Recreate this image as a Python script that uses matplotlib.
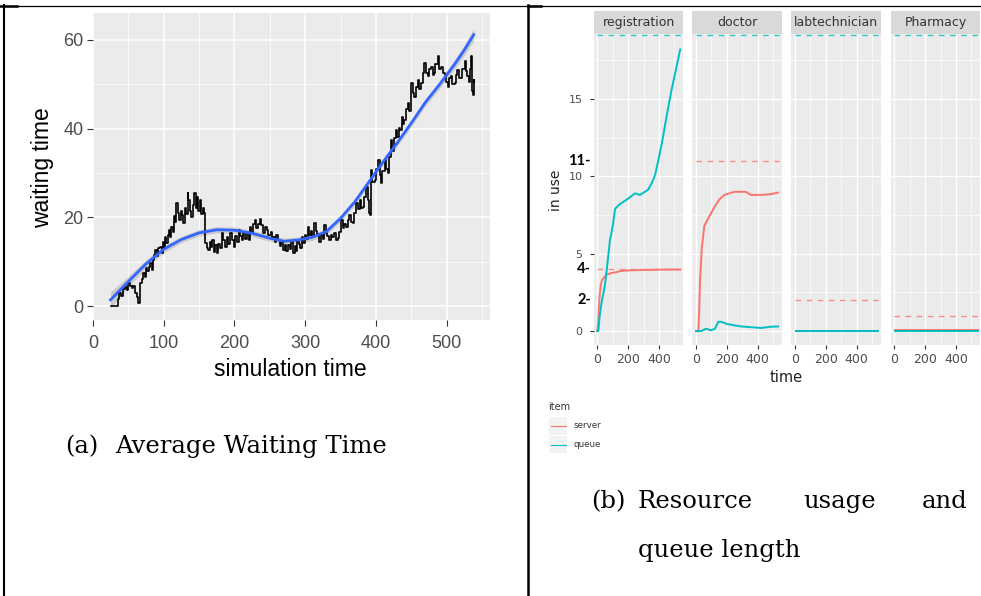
import matplotlib
matplotlib.use("Agg")
import matplotlib.pyplot as plt
import matplotlib.transforms as mtransforms
from matplotlib.lines import Line2D
from matplotlib.patches import Rectangle

plt.rcParams['font.family'] = ['Liberation Sans', 'DejaVu Sans']

W, H = 981, 596

# (a) average waiting time
wait_t = [25, 29, 33, 35, 37, 40, 42, 45, 48, 50, 52, 55, 57, 59, 62, 64, 66, 67, 69, 71,
          73, 75, 77, 79, 81, 83, 85, 87, 88, 90, 92, 95, 97, 99, 101, 102, 104, 106, 107, 109,
          111, 113, 114, 116, 118, 120, 122, 124, 126, 128, 130, 132, 134, 135, 137, 139, 141, 143, 145, 147,
          149, 151, 153, 155, 157, 159, 161, 163, 165, 167, 169, 171, 173, 175, 177, 179, 182, 184, 187, 189,
          191, 194, 196, 199, 201, 203, 206, 208, 210, 212, 215, 218, 220, 222, 224, 226, 229, 231, 233, 236,
          238, 241, 243, 246, 248, 251, 253, 255, 257, 259, 262, 264, 266, 269, 271, 273, 276, 278, 280, 283,
          285, 287, 289, 291, 293, 295, 297, 299, 301, 304, 306, 308, 310, 313, 315, 317, 320, 322, 325, 327,
          329, 331, 334, 336, 338, 341, 343, 346, 348, 351, 353, 355, 358, 360, 362, 364, 367, 369, 372, 374,
          377, 379, 381, 383, 386, 388, 390, 391, 393, 395, 398, 400, 403, 405, 407, 409, 412, 414, 417, 419,
          421, 423, 425, 428, 430, 432, 434, 436, 438, 440, 442, 445, 447, 450, 452, 454, 456, 459, 461, 464,
          466, 468, 470, 473, 475, 478, 480, 482, 484, 487, 489, 492, 494, 497, 499, 501, 503, 506, 508, 511,
          513, 515, 517, 520, 522, 525, 527, 529, 531, 533, 534, 535, 536, 537, 538, 539]
wait_y = [0, 0, 0, 1.5, 2.9, 2.2, 3.8, 4.4, 3.6, 5.2, 4.5, 4.0, 4.6, 3.0, 2.0, 0.6, 3.5, 5.1, 6.0, 7.4,
          6.5, 8.5, 7.8, 8.9, 9.8, 8.2, 10.4, 11.5, 12.6, 11.2, 13.0, 13.4, 12.0, 14.5, 13.0, 15.6, 14.2, 16.0, 17.2, 15.5,
          17.8, 16.8, 20.2, 19.0, 23.2, 21.0, 19.5, 21.5, 20.5, 18.7, 22.0, 20.8, 25.4, 23.9, 21.5, 20.0, 22.8, 25.5, 22.0, 24.7,
          21.5, 23.9, 20.8, 22.0, 21.0, 14.2, 13.0, 12.6, 14.5, 13.2, 15.0, 12.2, 13.8, 11.9, 14.0, 13.0, 16.4, 14.8, 13.4, 15.5,
          14.0, 16.4, 15.0, 13.4, 15.8, 14.5, 17.2, 15.8, 14.9, 16.5, 15.2, 16.4, 15.0, 17.9, 16.5, 18.5, 19.4, 17.5, 18.5, 19.7,
          18.2, 16.4, 17.8, 17.2, 16.0, 16.8, 15.2, 15.6, 14.5, 16.0, 14.9, 13.5, 14.5, 12.6, 13.8, 12.4, 13.8, 12.8, 14.6, 11.9,
          13.5, 12.5, 14.8, 14.1, 13.0, 15.5, 14.2, 16.0, 15.2, 17.9, 16.0, 17.0, 15.5, 18.7, 17.0, 16.2, 14.5, 16.0, 15.2, 18.3,
          16.5, 15.8, 14.9, 16.0, 15.5, 16.4, 14.8, 15.3, 16.8, 19.4, 17.5, 18.5, 17.9, 19.5, 20.5, 19.0, 18.7, 21.0, 23.2, 21.8,
          23.9, 22.0, 22.4, 24.5, 26.9, 24.0, 21.0, 20.5, 30.7, 28.0, 28.4, 31.0, 33.0, 29.5, 27.7, 30.5, 33.0, 31.0, 30.0, 33.5,
          37.5, 35.0, 37.8, 39.7, 38.2, 40.1, 39.7, 42.7, 41.0, 42.0, 44.5, 45.8, 44.0, 50.3, 48.0, 47.2, 49.5, 51.0, 49.0, 50.3,
          52.5, 54.8, 52.5, 51.8, 53.5, 54.0, 52.0, 52.5, 54.5, 56.3, 53.5, 54.0, 52.5, 52.1, 50.5, 49.5, 51.5, 51.8, 50.0, 50.3,
          52.0, 53.3, 51.5, 51.4, 53.5, 55.2, 53.0, 51.8, 50.5, 53.5, 56.3, 50.0, 48.4, 47.6, 51.0, 50.5]

# loess fit and half width of its band
fit_t = [25, 50, 75, 100, 125, 150, 175, 200, 225, 250, 270, 290, 310, 330, 350, 370, 390, 410, 430, 450, 470, 490, 510, 525, 538]
fit_y = [1.4, 5.5, 9.5, 12.8, 15.0, 16.5, 17.2, 17.1, 16.4, 15.3, 14.6, 14.9, 15.5, 16.8, 19.8, 23.5, 28.0, 32.5, 36.8, 41.3, 46.0, 50.0, 54.3, 57.8, 61.2]
fit_se = [1.8, 1.2, 0.9, 0.8, 0.7, 0.7, 0.7, 0.7, 0.7, 0.7, 0.7, 0.7, 0.7, 0.7, 0.7, 0.7, 0.7, 0.7, 0.7, 0.8, 0.8, 0.9, 1.0, 1.2, 1.4]

# (b) resource usage and queue length
resources = ['registration', 'doctor', 'labtechnician', 'Pharmacy']
capacity = [4, 11, 2, 1]
server_t = [[0, 5, 10, 15, 22, 30, 45, 61, 90, 120, 150, 200, 300, 400, 538],
            [0, 15, 20, 26, 37, 54, 86, 119, 151, 184, 249, 324, 357, 422, 486, 534],
            [5, 540],
            [5, 540]]
server_y = [[0, 0.5, 1.6, 2.3, 3.0, 3.3, 3.5, 3.65, 3.75, 3.8, 3.88, 3.92, 3.95, 3.97, 3.98],
            [0, 0, 1.0, 3.1, 5.3, 6.8, 7.4, 8.0, 8.5, 8.8, 9.0, 9.0, 8.8, 8.8, 8.85, 8.95],
            [0, 0],
            [0.07, 0.07]]
queue_t = [[0, 6, 15, 28, 48, 61, 82, 100, 115, 145, 191, 245, 277, 331, 355, 375, 395, 420, 448, 480, 512, 538],
           [0, 32, 65, 97, 123, 145, 162, 205, 292, 422, 486, 534],
           [5, 540],
           [5, 540]]
queue_y = [[0, 0, 1.0, 1.9, 2.9, 4.0, 5.9, 6.8, 7.9, 8.2, 8.5, 8.9, 8.8, 9.15, 9.6, 10.1, 11.0, 12.2, 13.8, 15.5, 17.0, 18.2],
           [0, 0, 0.15, 0.05, 0.15, 0.6, 0.6, 0.45, 0.3, 0.2, 0.28, 0.3],
           [0, 0],
           [0.03, 0.03]]
limit_t = [0, 540]
marked_ticks = [11, 4, 2]

RED = '#F8766D'
CYAN = '#00BFC4'


def box(x0, y0, x1, y1):
    # pixel box -> figure fraction rect
    return [x0 / W, 1 - y1 / H, (x1 - x0) / W, (y1 - y0) / H]


def fx(x):
    return x / W


def fy(y):
    return 1 - y / H


fig = plt.figure(figsize=(W / 100, H / 100), dpi=100)

# table borders
for xs, ys, lw in [((3, 981), (5.5, 5.5), 0.9), ((0, 17), (5.5, 5.5), 1.8),
                   ((528, 541), (5.5, 5.5), 1.8), ((4.3, 4.3), (5, 596), 1.5),
                   ((528, 528), (5, 596), 1.8)]:
    fig.add_artist(Line2D([fx(x) for x in xs], [fy(y) for y in ys], color='black', lw=lw))

# ---- left chart ----
ax = fig.add_axes(box(92.5, 12.7, 490, 320))
ax.set_facecolor('#EBEBEB')
for s in ax.spines.values():
    s.set_visible(False)
ax.set_xlim(-0.5, 561)
ax.set_ylim(-3.15, 66.15)
ax.set_xticks([0, 100, 200, 300, 400, 500])
ax.set_xticks([50, 150, 250, 350, 450, 550], minor=True)
ax.set_yticks([0, 20, 40, 60])
ax.set_yticks([10, 30, 50], minor=True)
ax.grid(which='major', color='white', lw=1.1)
ax.grid(which='minor', color='white', lw=0.55)
ax.set_axisbelow(True)
ax.tick_params(which='major', length=4.5, width=0.8, color='#333333', labelsize=13, labelcolor='#4D4D4D')
ax.tick_params(axis='x', pad=6)
ax.tick_params(axis='y', pad=2)
ax.tick_params(which='minor', length=0)

lo = [y - s for y, s in zip(fit_y, fit_se)]
hi = [y + s for y, s in zip(fit_y, fit_se)]
ax.fill_between(fit_t, lo, hi, color='#999999', alpha=0.4, lw=0)
ax.plot(wait_t, wait_y, color='black', lw=1.2, drawstyle='steps-post')
ax.plot(fit_t, fit_y, color='#3366FF', lw=2)

fig.text(fx(290), fy(370), 'simulation time', ha='center', va='center', fontsize=16.5)
fig.text(fx(43), fy(168), 'waiting time', rotation=90, ha='center', va='center', fontsize=16.5)

# caption (a)
serif = dict(family='DejaVu Serif', fontsize=17.5, va='baseline')
fig.text(fx(65), fy(453), '(a)', **serif)
fig.text(fx(115), fy(453), 'Average Waiting Time', **serif)

# ---- right chart (facets) ----
px0 = [593.7, 692.3, 791.3, 890.7]
pw = 89.6
for i, name in enumerate(resources):
    a = fig.add_axes(box(px0[i], 34, px0[i] + pw, 345))
    a.set_facecolor('#EBEBEB')
    for s in a.spines.values():
        s.set_visible(False)
    a.set_xlim(-24, 558)
    a.set_ylim(-0.9, 19.2)
    a.set_xticks([0, 200, 400])
    a.set_xticks([100, 300, 500], minor=True)
    a.set_yticks([0, 5, 10, 15])
    a.set_yticks([2.5, 7.5, 12.5, 17.5], minor=True)
    a.grid(which='major', color='white', lw=0.9)
    a.grid(which='minor', color='white', lw=0.45)
    a.set_axisbelow(True)
    a.tick_params(which='major', length=3, width=0.8, color='#333333', labelcolor='#4D4D4D',
                  labelfontfamily='DejaVu Sans')
    a.tick_params(axis='x', labelsize=9, pad=3)
    a.tick_params(axis='y', labelsize=8, pad=5)
    a.tick_params(which='minor', length=0)
    if i > 0:
        a.tick_params(axis='y', left=False, labelleft=False)

    a.plot(server_t[i], server_y[i], color=RED, lw=1.4)
    a.plot(queue_t[i], queue_y[i], color=CYAN, lw=1.4)
    a.plot(limit_t, [capacity[i]] * len(limit_t), color=RED, lw=1, dashes=(4, 4), alpha=0.8)
    a.plot(limit_t, [0.997] * len(limit_t), color=CYAN, lw=1, dashes=(4, 4), alpha=0.8,
           transform=a.get_xaxis_transform())

    if i == 0:
        trans = mtransforms.blended_transform_factory(a.transAxes, a.transData)
        for v in marked_ticks:
            a.text(-0.03, v, f'{v}-', transform=trans, ha='right', va='center', fontsize=10.5,
                   fontweight='bold', family='Lato', color='black', clip_on=False)

    st = fig.add_axes(box(px0[i], 11, px0[i] + pw, 34))
    st.set_facecolor('#D9D9D9')
    st.set_xticks([])
    st.set_yticks([])
    for s in st.spines.values():
        s.set_visible(False)
    st.text(0.5, 0.5, name, ha='center', va='center', fontsize=9, color='#333333', family='DejaVu Sans')

fig.text(fx(786), fy(377), 'time', ha='center', va='center', fontsize=10.5, color='#222222', family='DejaVu Sans')
fig.text(fx(556), fy(190), 'in use', rotation=90, ha='center', va='center', fontsize=10,
         color='#222222', family='DejaVu Sans')

# legend
fig.text(fx(548), fy(407), 'item', fontsize=7, va='center', ha='left', color='#333333', family='DejaVu Sans')
for lab, col, yc in [('server', RED, 426), ('queue', CYAN, 444.5)]:
    fig.add_artist(Rectangle((fx(548.7), fy(yc + 8.8)), (567 - 548.7) / W, 17.6 / H,
                             transform=fig.transFigure, facecolor='#F2F2F2', edgecolor='none'))
    fig.add_artist(Line2D([fx(550.5), fx(565.5)], [fy(yc), fy(yc)], color=col, lw=0.8))
    fig.text(fx(573), fy(yc), lab, fontsize=6.3, va='center', color='#333333', family='DejaVu Sans')

# caption (b), justified words
fig.text(fx(591), fy(508), '(b)', **serif)
fig.text(fx(638), fy(508), 'Resource', **serif)
fig.text(fx(803), fy(508), 'usage', **serif)
fig.text(fx(922), fy(508), 'and', **serif)
fig.text(fx(638), fy(557), 'queue length', **serif)

fig.savefig('out.png', dpi=100)
